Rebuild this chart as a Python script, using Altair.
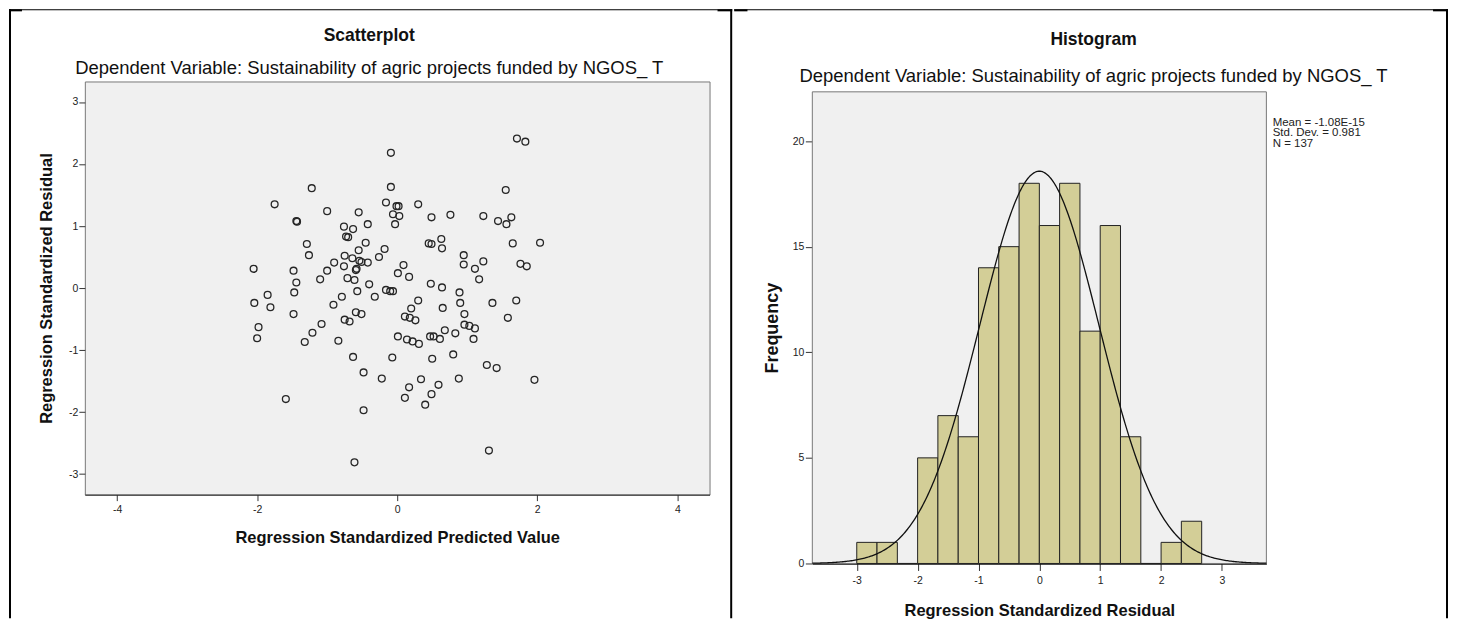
import altair as alt
import pandas as pd

FONT = "Liberation Sans"

# ---------------- data: scatterplot ----------------
pred = [1.71, 1.83, -0.09, -1.22, -0.09, 1.55, -1.75, -0.16, -0.01, 0.02, 0.30, -1.00, -0.55, -0.06,
        0.03, 0.76, 0.49, 1.23, 1.63, 1.44, 1.56, -1.44, -1.43, -0.03, -0.42, -0.76, -0.63, -0.73,
        -0.70, -1.29, -0.45, 1.65, 2.04, 0.45, 0.49, 0.63, 0.64, -0.18, -0.55, -1.26, -0.75, 0.95,
        -0.64, -0.26, -0.54, -0.51, 1.23, -0.90, -0.42, -0.76, 0.09, 0.95, 1.76, 1.85, -2.05, -0.58,
        -0.59, -1.48, -1.00, 1.11, 0.01, 0.17, -0.71, -0.61, -1.10, 1.17, -1.44, -0.40, 0.48, 0.64,
        -0.16, -0.10, -0.06, -0.57, -1.47, 0.89, -1.85, -0.79, -0.32, 0.30, 1.70, -2.04, -0.91, 0.90,
        1.36, -1.81, 0.65, 0.20, -0.59, -0.51, -1.48, 0.96, 0.11, 0.18, 0.26, 1.58, -0.75, -0.68,
        -1.08, -1.98, 0.96, 1.03, 1.11, 0.68, -1.21, 0.83, -2.00, 0.01, 0.47, 0.52, 0.14, 0.22,
        0.61, 1.09, -1.32, -0.84, 0.31, 0.80, -0.63, -0.07, 0.50, 1.28, 1.42, -0.48, -0.22, 0.34,
        0.88, 1.96, 0.59, 0.17, 0.49, -1.59, 0.11, 0.40, -0.48, 1.31, -0.61]
resid = [2.41, 2.36, 2.18, 1.61, 1.63, 1.58, 1.35, 1.38, 1.32, 1.32, 1.35, 1.24, 1.22, 1.19,
         1.16, 1.18, 1.14, 1.16, 1.14, 1.08, 1.03, 1.08, 1.07, 1.03, 1.03, 0.99, 0.95, 0.83,
         0.82, 0.71, 0.73, 0.72, 0.73, 0.72, 0.71, 0.79, 0.64, 0.63, 0.61, 0.53, 0.52, 0.53,
         0.48, 0.50, 0.44, 0.42, 0.43, 0.41, 0.41, 0.35, 0.37, 0.38, 0.39, 0.35, 0.31, 0.31,
         0.29, 0.28, 0.28, 0.31, 0.24, 0.18, 0.16, 0.13, 0.14, 0.14, 0.09, 0.06, 0.07, 0.01,
         -0.03, -0.05, -0.05, -0.05, -0.07, -0.07, -0.11, -0.14, -0.14, -0.20, -0.20, -0.24, -0.27, -0.24,
         -0.24, -0.31, -0.32, -0.33, -0.39, -0.42, -0.42, -0.42, -0.46, -0.48, -0.52, -0.48, -0.51, -0.54,
         -0.58, -0.63, -0.59, -0.61, -0.65, -0.68, -0.72, -0.73, -0.81, -0.78, -0.78, -0.78, -0.83, -0.86,
         -0.82, -0.82, -0.87, -0.85, -0.90, -1.07, -1.11, -1.12, -1.14, -1.24, -1.29, -1.36, -1.46, -1.47,
         -1.46, -1.48, -1.56, -1.60, -1.71, -1.79, -1.77, -1.88, -1.97, -2.62, -2.81]

# ---------------- data: histogram ----------------
bin_start = [-3.0, -2.667, -2.333, -2.0, -1.667, -1.333, -1.0, -0.667, -0.333,
             0.0, 0.333, 0.667, 1.0, 1.333, 1.667, 2.0, 2.333]
bin_end = [-2.667, -2.333, -2.0, -1.667, -1.333, -1.0, -0.667, -0.333, 0.0,
           0.333, 0.667, 1.0, 1.333, 1.667, 2.0, 2.333, 2.667]
freq = [1, 1, 0, 5, 7, 6, 14, 15, 18, 16, 18, 11, 16, 6, 0, 1, 2]

res_mean = -1.08e-15
res_sd = 0.981
res_n = 137
bin_width = 1 / 3

stats_lines = ["Mean = -1.08E-15", "Std. Dev. = 0.981", "N = 137"]

sc_title = "Scatterplot"
hi_title = "Histogram"
subtitle = "Dependent Variable: Sustainability of agric projects funded by NGOS_ T"
sc_xtitle = "Regression Standardized Predicted Value"
sc_ytitle = "Regression Standardized Residual"
hi_xtitle = "Regression Standardized Residual"
hi_ytitle = "Frequency"

sc_xticks = [-4, -2, 0, 2, 4]
sc_yticks = [-3, -2, -1, 0, 1, 2, 3]
hi_xticks = [-3, -2, -1, 0, 1, 2, 3]
hi_yticks = [0, 5, 10, 15, 20]

# ---------------- layout constants ----------------
W1, H1 = 626, 414
W2, H2 = 455, 483
HI_TOP = 22.33     # frequency value at the frame top
HI_YMAX = 22.82    # extended domain (frame sits 10px below panel top)
TOP = -72.3        # page y = 8
BOTTOM = 538

label_expr = "'' + datum.value"


def axis(**kw):
    base = dict(grid=False, domain=False, ticks=True, tickColor="#333", tickWidth=1,
                labelFont=FONT, labelFontSize=10.5, labelColor="#222",
                titleFont=FONT, titleFontWeight="bold", titleFontSize=16.5, titleColor="#111",
                labelExpr=label_expr)
    base.update(kw)
    return alt.Axis(**base)


def title_marks(x, y_title, y_sub, title_text):
    one = pd.DataFrame({"a": [0]})
    t = alt.Chart(one).mark_text(
        text=title_text, align="center", baseline="alphabetic", font=FONT,
        fontSize=17.5, fontWeight="bold", color="#111").encode(
        x=alt.value(x), y=alt.value(y_title))
    s = alt.Chart(one).mark_text(
        text=subtitle, align="center", baseline="alphabetic", font=FONT,
        fontSize=18.5, color="#111").encode(
        x=alt.value(x), y=alt.value(y_sub))
    return [t, s]


def borders(x1, x2, y1, y2):
    """Black table-cell borders drawn as filled pixel rectangles (no stroke)."""
    df = pd.DataFrame({"x1": x1, "x2": x2, "y1": y1, "y2": y2})
    return alt.Chart(df).mark_rect(fill="black", strokeWidth=0).encode(
        x=alt.X("x1:Q", scale=None), x2="x2:Q",
        y=alt.Y("y1:Q", scale=None), y2="y2:Q")


# ---------------- left panel ----------------
sc_df = pd.DataFrame({"pred": pred, "resid": resid})

points = alt.Chart(sc_df).mark_point(
    shape="circle", filled=False, size=47, stroke="#262626", strokeWidth=1.3, opacity=1
).encode(
    x=alt.X("pred:Q", scale=alt.Scale(domain=[-4.46, 4.46], nice=False, zero=False),
            axis=axis(values=sc_xticks, title=sc_xtitle, tickSize=6, labelPadding=4,
                      domain=True, domainColor="#222", domainWidth=1,
                      titleY=47.7, titleBaseline="alphabetic")),
    y=alt.Y("resid:Q", scale=alt.Scale(domain=[-3.33, 3.33], nice=False, zero=False),
            axis=axis(values=sc_yticks, title=sc_ytitle, tickSize=6, labelPadding=1,
                      titleX=-33, titleBaseline="alphabetic")),
)

left_b = borders(
    x1=[-76, 646.7, -76, -76, 634],
    x2=[-74, 648.7, 648.7, -63, 648.7],
    y1=[TOP, TOP, TOP, TOP, TOP],
    y2=[BOTTOM, BOTTOM, TOP + 1, TOP + 2, TOP + 2],
)

left = alt.layer(left_b, points, *title_marks(285, -40.4, -7.6, sc_title)).properties(
    width=W1, height=H1,
    view=alt.ViewBackground(fill="#f0f0f0", stroke="#777", strokeWidth=1),
)

# ---------------- right panel ----------------
hist_df = pd.DataFrame({"b0": bin_start, "b1": bin_end, "freq": freq})

xs = alt.Scale(domain=[-3.73, 3.73], nice=False, zero=False)
ys = alt.Scale(domain=[0, HI_YMAX], nice=False, zero=False)

frame = alt.Chart(pd.DataFrame({"a": [0]})).mark_rect(
    fill="#f0f0f0", stroke="#777", strokeWidth=1).encode(
    x=alt.value(0), x2=alt.value(W2),
    y=alt.Y("lo:Q", scale=ys,
            axis=axis(values=hi_yticks, title=hi_ytitle, tickSize=7, labelPadding=1.5,
                      titleFontSize=18, titleX=-35, titleY=246.7, titleBaseline="alphabetic")),
    y2="hi:Q",
).transform_calculate(lo="0", hi=str(HI_TOP))

bars = alt.Chart(hist_df).mark_rect(fill="#d3ce97", stroke="#222", strokeWidth=1).encode(
    x=alt.X("b0:Q", scale=xs,
            axis=axis(values=hi_xticks, title=hi_xtitle, tickSize=7, labelPadding=5,
                      domain=True, domainColor="#111", domainWidth=1.5,
                      titleY=52.4, titleBaseline="alphabetic")),
    x2="b1:Q",
    y=alt.Y("freq:Q", scale=ys),
    y2=alt.datum(0),
)

curve = alt.Chart(alt.sequence(-3.73, 3.735, 0.02, as_="z")).transform_calculate(
    fit=f"{res_n}*{bin_width}/({res_sd}*sqrt(2*PI))*exp(-0.5*pow((datum.z-({res_mean}))/{res_sd},2))"
).mark_line(color="#111", strokeWidth=1.3).encode(
    x=alt.X("z:Q", scale=xs), y=alt.Y("fit:Q", scale=ys))

stats = alt.Chart(pd.DataFrame({"a": [0]})).mark_text(
    text=stats_lines, align="left", baseline="top", font=FONT, fontSize=11.5,
    lineHeight=10.5, color="#222").encode(x=alt.value(461.3), y=alt.value(35.5))

right_b = borders(
    x1=[635, -78.3, -78.3, 622],
    x2=[637, 637, -65, 637],
    y1=[TOP, TOP, TOP, TOP],
    y2=[BOTTOM, TOP + 1, TOP + 2, TOP + 2],
)

right = alt.layer(right_b, frame, bars, curve, stats,
                  *title_marks(281.8, -36.3, 0.7, hi_title)).properties(
    width=W2, height=H2,
    view=alt.ViewBackground(fill="transparent", stroke="transparent"),
)

chart = alt.hconcat(left, right, spacing=0).properties(
    padding=0, background="white"
).configure(font=FONT)

chart.save("out.html", embed_options={"renderer": "svg", "actions": False})
